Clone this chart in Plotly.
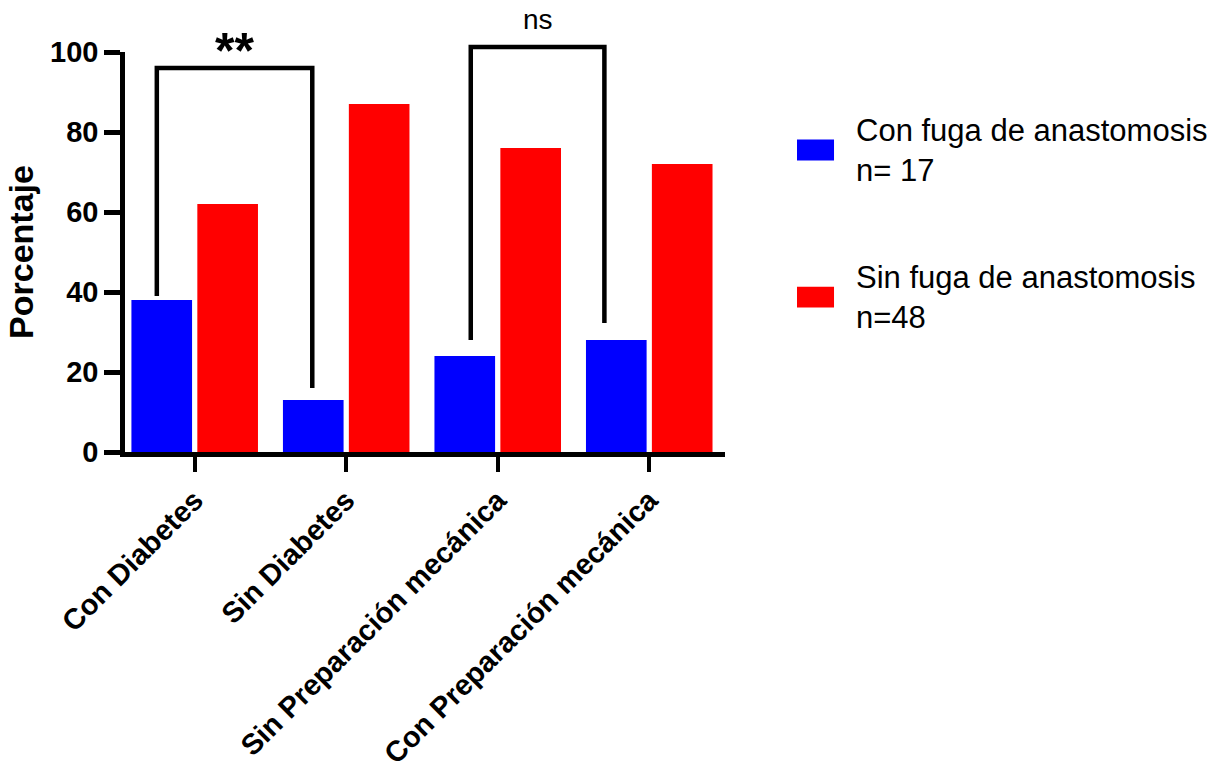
import plotly.graph_objects as go

# ---- data ----
categories = ["Con Diabetes", "Sin Diabetes", "Sin Preparación mecánica", "Con Preparación mecánica"]
con_fuga = [38, 13, 24, 28]
sin_fuga = [62, 87, 76, 72]
series_names = ["Con fuga de anastomosis<br>n= 17", "Sin fuga de anastomosis<br>n=48"]
series_colors = ["#0000FF", "#FF0000"]
y_ticks = [0, 20, 40, 60, 80, 100]

# significance brackets: x positions (category units), top height, leg ends, label
bracket_x0 = [-0.25, 1.822]
bracket_x1 = [0.776, 2.704]
bracket_top = [96, 101.25]
bracket_left_end = [39, 28]
bracket_right_end = [16, 32.25]
bracket_labels = ["**", "ns"]
bracket_label_y = [92.75, 108.0]

Y_MAX = 100
FONT = "Arial, Liberation Sans, sans-serif"

fig = go.Figure()
for name, vals, col in zip(series_names, [con_fuga, sin_fuga], series_colors):
    fig.add_trace(go.Bar(x=list(range(len(categories))), y=vals, name=name,
                         marker=dict(color=col, line=dict(width=0)), showlegend=False))

fig.update_layout(
    width=1225, height=769,
    margin=dict(l=125, r=500, t=52, b=317, autoexpand=False),
    paper_bgcolor="white", plot_bgcolor="white",
    barmode="group", bargap=0.13, bargroupgap=0.08,
    font=dict(family=FONT, color="black"),
)
fig.update_xaxes(
    range=[-0.46, 3.5], tickmode="array", tickvals=list(range(len(categories))),
    ticktext=[f"<b>{c}</b>" for c in categories], tickangle=-45,
    tickfont=dict(size=29, family=FONT, color="black"),
    showline=True, linecolor="black", linewidth=4.5,
    ticks="outside", ticklen=15, tickwidth=4, tickcolor="black",
    showgrid=False, zeroline=False,
)
fig.update_yaxes(
    range=[0, Y_MAX], tickmode="array", tickvals=y_ticks,
    ticktext=[f"<b>{t}</b>" for t in y_ticks],
    tickfont=dict(size=29, family=FONT, color="black"),
    showline=True, linecolor="black", linewidth=4.5,
    ticks="outside", ticklen=16, tickwidth=4.5, tickcolor="black",
    showgrid=False, zeroline=False,
    title=dict(text="<b>Porcentaje</b>", font=dict(size=34, family=FONT, color="black"), standoff=8),
)

# brackets (y in paper units = value / Y_MAX)
for x0, x1, top, le, re, lab, ly in zip(bracket_x0, bracket_x1, bracket_top,
                                        bracket_left_end, bracket_right_end,
                                        bracket_labels, bracket_label_y):
    path = (f"M {x0},{le / Y_MAX} L {x0},{top / Y_MAX} "
            f"L {x1},{top / Y_MAX} L {x1},{re / Y_MAX}")
    fig.add_shape(type="path", path=path, xref="x", yref="paper",
                  line=dict(color="black", width=4.5))
    is_star = lab.startswith("*")
    fig.add_annotation(x=(x0 + x1) / 2, y=ly / Y_MAX, xref="x", yref="paper",
                       text=f"<b>{lab}</b>" if is_star else lab, showarrow=False,
                       xanchor="center", yanchor="bottom" if is_star else "middle",
                       font=dict(size=50 if is_star else 28, family=FONT, color="black"))

# legend (manual, to match swatch size)
leg_centers = [0.755, 0.387]
for name, col, yc in zip(series_names, series_colors, leg_centers):
    fig.add_shape(type="rect", xref="paper", yref="paper",
                  x0=1.12, x1=1.1817, y0=yc - 0.026, y1=yc + 0.026,
                  fillcolor=col, line=dict(width=0))
    fig.add_annotation(x=1.215, y=yc, xref="paper", yref="paper", text=name,
                       showarrow=False, xanchor="left", yanchor="middle", align="left",
                       font=dict(size=31, family=FONT, color="black"))

fig.write_html("out.html", config={"displayModeBar": False},
               post_script="document.body.style.margin='0px';")
